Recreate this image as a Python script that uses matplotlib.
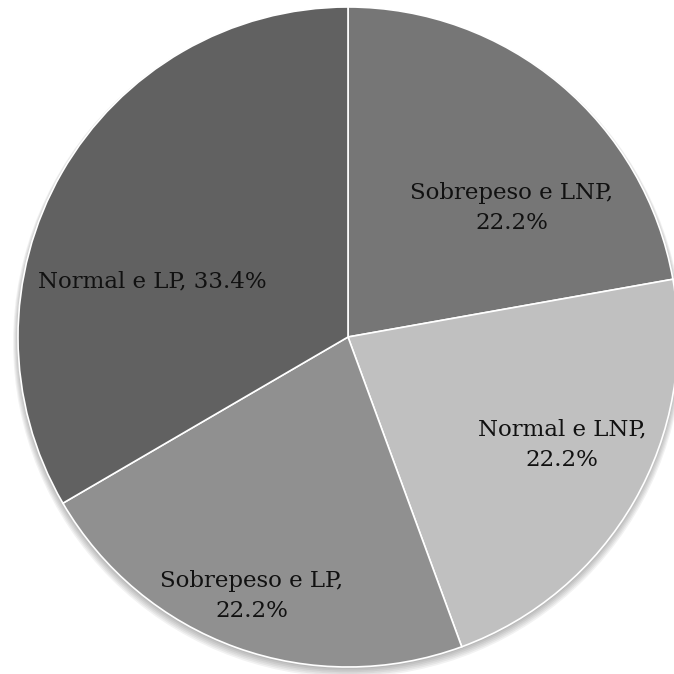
"""Pie chart of weight status vs. LP/LNP groups."""
import matplotlib

matplotlib.use("Agg")
import matplotlib.pyplot as plt
from matplotlib.patches import Circle

labels = ["Sobrepeso e LNP", "Normal e LNP", "Sobrepeso e LP", "Normal e LP"]
shares = [22.2, 22.2, 22.2, 33.4]
colors = ["#767676", "#c0c0c0", "#909090", "#616161"]

# label text layout: (x, y, split onto two lines)
label_pos = [(0.497, 0.391, True), (0.648, -0.327, True),
             (-0.291, -0.785, True), (-0.594, 0.167, False)]

_DPI = 100
_SIZE = 674
cx, cy, rad = 348, 337, 330

fig = plt.figure(figsize=(_SIZE / _DPI, _SIZE / _DPI), dpi=_DPI)
ax = fig.add_axes([(cx - rad) / _SIZE, (_SIZE - cy - rad) / _SIZE,
                   2 * rad / _SIZE, 2 * rad / _SIZE])

# soft drop shadow under the pie
for i in range(6):
    ax.add_patch(Circle((0.0, -0.006 - 0.002 * i), 1.0 + 0.003 * i,
                        color="black", alpha=0.05, lw=0, zorder=0,
                        clip_on=False))

wedges, _ = ax.pie(
    shares,
    colors=colors,
    startangle=90,
    counterclock=False,
    radius=1.0,
    wedgeprops=dict(edgecolor="white", linewidth=1.2),
)
for w in wedges:
    w.set_clip_on(False)
    w.set_zorder(2)

# pie() resets the limits, so fix them afterwards
ax.set_xlim(-1, 1)
ax.set_ylim(-1, 1)
ax.set_aspect("equal")
ax.axis("off")

for lab, val, (x, y, two) in zip(labels, shares, label_pos):
    sep = ",\n" if two else ", "
    ax.text(x, y, f"{lab}{sep}{val:.1f}%", ha="center", va="center",
            family="DejaVu Serif", fontsize=16.5, color="#111111",
            linespacing=1.5, zorder=3)

fig.savefig("out.png", dpi=_DPI, facecolor="white")
